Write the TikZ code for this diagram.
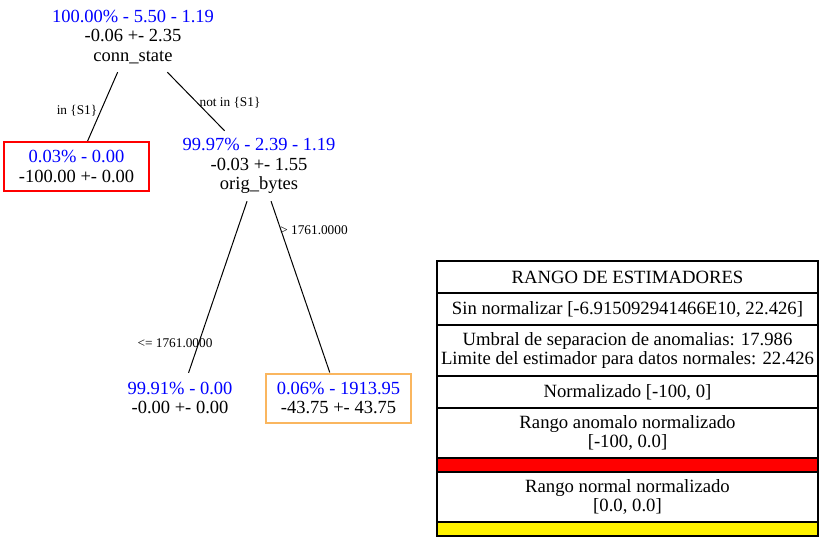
\documentclass[tikz,border=0pt]{standalone}
\usepackage{fontspec}
\setmainfont{Liberation Serif}
\usetikzlibrary{positioning}
\definecolor{leaforange}{RGB}{250,182,95}

\tikzset{
  treenode/.style={align=center, inner sep=0pt, font=\fontsize{18.5}{19.5}\selectfont},
  leafbox/.style={treenode, draw, line width=2pt, minimum width=145pt, minimum height=49pt},
  edgelbl/.style={font=\fontsize{13.3}{15}\selectfont, inner sep=0pt},
  edgeline/.style={line width=1pt},
  tabrow/.style={draw, line width=1.2pt, minimum width=381pt, inner sep=0pt, outer sep=0pt,
    align=center, font=\fontsize{18.7}{19}\selectfont},
}

\begin{document}
\begin{tikzpicture}[x=1pt,y=-1pt]
  \useasboundingbox (0,0) rectangle (824,541);
  % tree nodes
  \node[treenode, minimum height=70pt] (root) at (133,37)
    {\textcolor{blue}{100.00\% - 5.50 - 1.19}\\-0.06 +- 2.35\\conn\_state};
  \node[leafbox, draw=red] (leafA) at (76.5,166.5)
    {\textcolor{blue}{0.03\% - 0.00}\\-100.00 +- 0.00};
  \node[treenode, minimum height=70pt] (mid) at (259,166)
    {\textcolor{blue}{99.97\% - 2.39 - 1.19}\\-0.03 +- 1.55\\orig\_bytes};
  \node[treenode, minimum height=50pt, minimum width=140pt] (leafL) at (180,398)
    {\textcolor{blue}{99.91\% - 0.00}\\-0.00 +- 0.00};
  \node[leafbox, draw=leaforange] (leafR) at (338.5,398)
    {\textcolor{blue}{0.06\% - 1913.95}\\-43.75 +- 43.75};
  % edges
  \draw[edgeline] (root) -- (leafA);
  \draw[edgeline] (root) -- (mid);
  \draw[edgeline] (mid) -- (leafL);
  \draw[edgeline] (mid) -- (leafR);
  \node[edgelbl] (lblA) at (77,111) {in \{S1\}};
  \node[edgelbl] (lblB) at (230,103) {not in \{S1\}};
  \node[edgelbl] (lblC) at (314,230) {> 1761.0000};
  \node[edgelbl] (lblD) at (175,343) {<= 1761.0000};

  % legend table
  \node[tabrow, minimum height=32pt, anchor=north] (hdr) at (627.5,261) {RANGO DE ESTIMADORES};
  \node[tabrow, minimum height=32pt, below=0pt of hdr] (raw) {Sin normalizar [-6.915092941466E10, 22.426]};
  \node[tabrow, minimum height=51pt, below=0pt of raw] (thr)
    {Umbral de separacion de anomalias: 17.986\\Limite del estimador para datos normales: 22.426};
  \node[tabrow, minimum height=32pt, below=0pt of thr] (norm) {Normalizado [-100, 0]};
  \node[tabrow, minimum height=50pt, below=0pt of norm] (anom) {Rango anomalo normalizado\\{}[-100, 0.0]};
  \node[tabrow, minimum height=14pt, below=0pt of anom, fill=red] (redbar) {};
  \node[tabrow, minimum height=50pt, below=0pt of redbar] (okrng) {Rango normal normalizado\\{}[0.0, 0.0]};
  \node[tabrow, minimum height=14pt, below=0pt of okrng, fill=yellow] (yelbar) {};
\end{tikzpicture}
\end{document}
